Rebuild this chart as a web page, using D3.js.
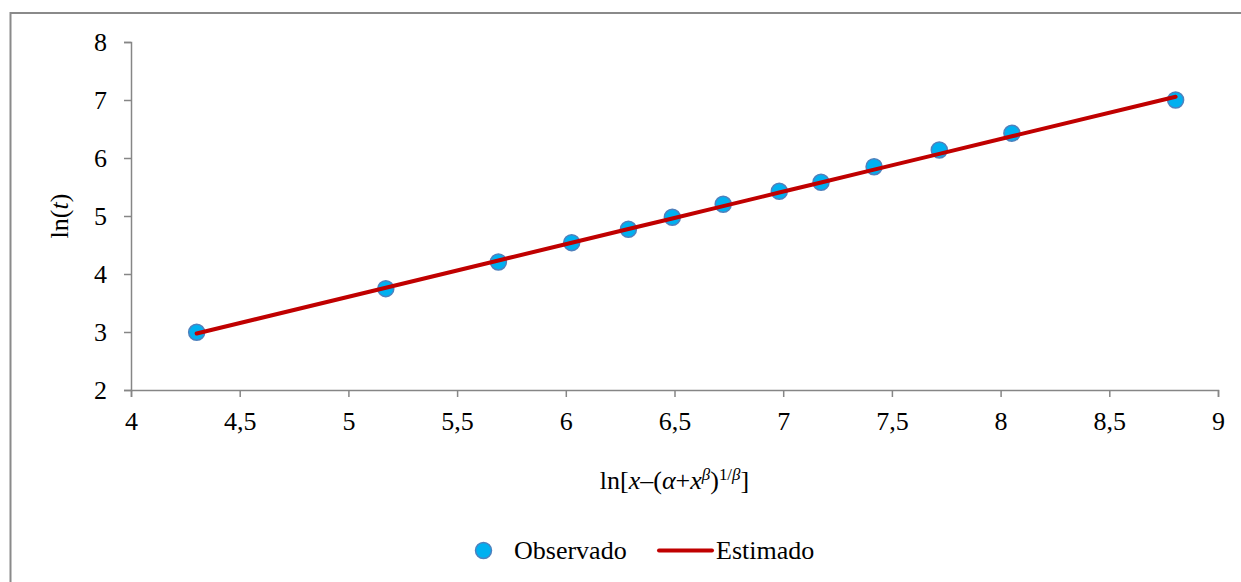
<!DOCTYPE html>
<html>
<head>
<meta charset="utf-8">
<script src="https://cdnjs.cloudflare.com/ajax/libs/d3/7.8.5/d3.min.js"></script>
<style>
  html, body { margin: 0; padding: 0; background: #fff; }
  svg { display: block; font-family: "Liberation Serif", "Times New Roman", serif; }
</style>
</head>
<body>
<div id="chart"></div>
<script>

  // values
  var lnX = [4.302, 5.172, 5.690, 6.027, 6.288, 6.490, 6.724, 6.982, 7.174, 7.418, 7.718, 8.052, 8.805];
  var observado = [2.995, 3.747, 4.207, 4.540, 4.771, 4.978, 5.202, 5.426, 5.581, 5.850, 6.138, 6.426, 7.000];
  var estimado = [2.975, 3.764, 4.233, 4.539, 4.775, 4.958, 5.171, 5.404, 5.578, 5.800, 6.072, 6.374, 7.057];
  var xTicks = [4, 4.5, 5, 5.5, 6, 6.5, 7, 7.5, 8, 8.5, 9];
  var yTicks = [2, 3, 4, 5, 6, 7, 8];
  var seriesNames = ['Observado', 'Estimado'];

  var width = 1241, height = 582;
  var fontSize = 26;
  var serif = 'Liberation Serif';
  var axisColor = '#868686';

  var svg = d3.select('#chart').append('svg')
      .attr('width', width)
      .attr('height', height)
      .attr('font-family', serif);

  // outer frame, cut by the window on the right and bottom
  svg.append('rect')
      .attr('x', 10.5)
      .attr('y', 13)
      .attr('width', 1300)
      .attr('height', 700)
      .attr('fill', '#fff')
      .attr('stroke', '#8a8a8a')
      .attr('stroke-width', 2);

  var x = d3.scaleLinear().domain([4, 9]).range([131, 1218]);
  var y = d3.scaleLinear().domain([2, 8]).range([390, 42]);

  var comma = function(d) { return String(d).replace('.', ','); };

  // x axis
  var gx = svg.append('g')
      .attr('transform', 'translate(0,' + y(2) + ')')
      .call(d3.axisBottom(x).tickValues(xTicks).tickFormat(comma).tickSize(7).tickSizeOuter(7).tickPadding(8));

  // y axis
  var gy = svg.append('g')
      .attr('transform', 'translate(' + x(4) + ',0)')
      .call(d3.axisLeft(y).tickValues(yTicks).tickFormat(comma).tickSize(7).tickSizeOuter(7).tickPadding(17));

  [gx, gy].forEach(function(g) {
    g.attr('font-family', serif).attr('font-size', fontSize);
    g.selectAll('path, line').attr('stroke', axisColor).attr('stroke-width', 1.5);
    g.selectAll('text')
        .attr('fill', '#000')
        .attr('font-family', serif)
        .style('font-family', serif)
        .style('font-size', fontSize + 'px');
  });
  gx.selectAll('text').attr('dy', '0.95em');
  gy.selectAll('text').attr('dy', '0.33em');

  // estimated line
  var line = d3.line()
      .x(function(d, i) { return x(lnX[i]); })
      .y(function(d) { return y(d); });

  // observed points
  svg.append('g').selectAll('circle')
      .data(observado)
    .enter().append('circle')
      .attr('cx', function(d, i) { return x(lnX[i]); })
      .attr('cy', function(d) { return y(d); })
      .attr('r', 8)
      .attr('fill', '#00b0f0')
      .attr('stroke', '#4f81bd')
      .attr('stroke-width', 1.5);

  // line drawn over the points, as in the reference
  svg.append('path')
      .datum(estimado)
      .attr('d', line)
      .attr('fill', 'none')
      .attr('stroke', '#c00000')
      .attr('stroke-width', 4)
      .attr('stroke-linecap', 'round');

  // y title: ln(t)
  var yTitle = svg.append('text')
      .attr('transform', 'translate(68,' + ((y(2) + y(8)) / 2) + ') rotate(-90)')
      .attr('text-anchor', 'middle')
      .style('font-size', fontSize + 'px');
  yTitle.append('tspan').text('ln(');
  yTitle.append('tspan').attr('font-style', 'italic').text('t');
  yTitle.append('tspan').text(')');

  // x title: ln[x–(α+x^β)^(1/β)]
  var xTitle = svg.append('text')
      .attr('x', (x(4) + x(9)) / 2)
      .attr('y', 489)
      .attr('text-anchor', 'middle')
      .style('font-size', fontSize + 'px');
  var sup = fontSize * 0.65;
  xTitle.append('tspan').text('ln[');
  xTitle.append('tspan').attr('font-style', 'italic').text('x');
  xTitle.append('tspan').text('–(');
  xTitle.append('tspan').attr('font-style', 'italic').text('α');
  xTitle.append('tspan').text('+');
  xTitle.append('tspan').attr('font-style', 'italic').text('x');
  xTitle.append('tspan').attr('font-style', 'italic').attr('dy', -9).style('font-size', sup + 'px').text('β');
  xTitle.append('tspan').attr('dy', 9).text(')');
  xTitle.append('tspan').attr('dy', -9).style('font-size', sup + 'px').text('1/');
  xTitle.append('tspan').attr('font-style', 'italic').style('font-size', sup + 'px').text('β');
  xTitle.append('tspan').attr('dy', 9).text(']');

  // legend
  var legend = svg.append('g');
  legend.append('circle')
      .attr('cx', 483.5)
      .attr('cy', 550.5)
      .attr('r', 8)
      .attr('fill', '#00b0f0')
      .attr('stroke', '#4f81bd')
      .attr('stroke-width', 1.5);
  legend.append('text')
      .attr('x', 514)
      .attr('y', 559)
      .style('font-size', fontSize + 'px')
      .text(seriesNames[0]);
  legend.append('line')
      .attr('x1', 659).attr('x2', 712)
      .attr('y1', 550.5).attr('y2', 550.5)
      .attr('stroke', '#c00000')
      .attr('stroke-width', 4)
      .attr('stroke-linecap', 'round');
  legend.append('text')
      .attr('x', 716)
      .attr('y', 559)
      .style('font-size', fontSize + 'px')
      .text(seriesNames[1]);

</script>
</body>
</html>
